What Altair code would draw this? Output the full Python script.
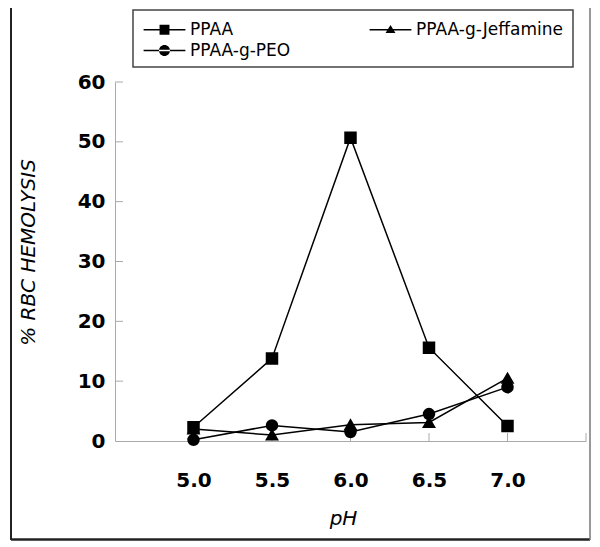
import altair as alt
import pandas as pd

PH = [5.0, 5.5, 6.0, 6.5, 7.0]
PPAA = [2.3, 13.8, 50.7, 15.6, 2.5]
PPAA_G_PEO = [0.2, 2.6, 1.5, 4.5, 9.0]
PPAA_G_JEFF = [2.0, 1.0, 2.7, 3.1, 10.5]
SERIES = ["PPAA", "PPAA-g-PEO", "PPAA-g-Jeffamine"]
X_LABELS = [5.0, 5.5, 6.0, 6.5, 7.0]
X_TICKS = [5.0, 5.5, 6.0, 6.5, 7.0, 7.5]
Y_TICKS = [10, 20, 30, 40, 50, 60]
Y_LABELS = [0, 10, 20, 30, 40, 50, 60]

rows = []
for name, vals in zip(SERIES, [PPAA, PPAA_G_PEO, PPAA_G_JEFF]):
    for p, v in zip(PH, vals):
        rows.append({"pH": p, "value": v, "series": name})
df = pd.DataFrame(rows)

W, H = 471, 359
FONT = "DejaVu Sans"
AX = "#aaaaaa"

# legend glyphs: a thin filled bar (the line) plus the marker
LEG_PATHS = [
    "M-3.8,-0.12H3.8V0.12H-3.8ZM-0.9,-0.9H0.9V0.9H-0.9Z",
    "M-3.8,-0.12H3.8V0.12H-3.8ZM-1,0A1,1,0,1,0,1,0A1,1,0,1,0,-1,0Z",
    "M-3.8,-0.12H3.8V0.12H-3.8ZM0,-0.85L0.9,0.6H-0.9Z",
]

xscale = alt.Scale(domain=[4.5, 7.5], nice=False, zero=False)
yscale = alt.Scale(domain=[0, 60], nice=False)

base = alt.Chart(df)

lines = base.mark_line(color="black", strokeWidth=1.5).encode(
    x=alt.X("pH:Q", scale=xscale, axis=alt.Axis(
        values=X_LABELS, format=".1f", title="pH", tickSize=0, labelPadding=29,
        domainColor=AX, grid=False, titleX=228, titleY=77, titleBaseline="middle",
        titleAlign="center")),
    y=alt.Y("value:Q", scale=yscale, axis=alt.Axis(
        values=Y_LABELS, title="% RBC HEMOLYSIS", tickSize=0, labelPadding=10,
        domainColor=AX, grid=False, titleAngle=270, titleX=-87, titleY=170,
        titleBaseline="middle", titleAlign="center")),
    detail="series:N",
)

points = base.mark_point(filled=True, fill="black", stroke="black", opacity=1, size=110).encode(
    x="pH:Q",
    y="value:Q",
    shape=alt.Shape("series:N", scale=alt.Scale(domain=SERIES, range=["square", "circle", "triangle-up"]), legend=None),
)

legend_layer = base.transform_filter("false").mark_point(
    filled=True, fill="black", stroke="black", strokeWidth=0.5, opacity=1, size=121
).encode(
    x="pH:Q",
    y="value:Q",
    shape=alt.Shape("series:N", scale=alt.Scale(domain=SERIES, range=LEG_PATHS), legend=alt.Legend(
        title=None, orient="none", legendX=26, legendY=-61, columns=2, columnPadding=76,
        rowPadding=3, padding=0,
        labelFont=FONT, labelFontSize=17, labelColor="black", labelOffset=17,
        symbolSize=121, symbolOffset=15, symbolFillColor="black",
        symbolStrokeColor="black", symbolStrokeWidth=0.5, symbolOpacity=1)),
)

frame_df = pd.DataFrame({"k": [0]})
legend_box = alt.Chart(frame_df).mark_rect(
    fill="white", stroke="#444444", strokeWidth=1.5
).encode(x=alt.value(18), x2=alt.value(458), y=alt.value(-72), y2=alt.value(-15))

yticks = alt.Chart(pd.DataFrame({"value": Y_TICKS})).mark_rule(color=AX, strokeWidth=1).encode(
    y="value:Q", x=alt.value(0), x2=alt.value(8)
)
xticks = alt.Chart(pd.DataFrame({"pH": X_TICKS})).mark_rule(color=AX, strokeWidth=1).encode(
    x="pH:Q", y=alt.value(H - 8), y2=alt.value(H)
)

fl = alt.Chart(frame_df).mark_rule(color="#222222", strokeWidth=2).encode(
    x=alt.value(-104), y=alt.value(-79), y2=alt.value(458))
fb = alt.Chart(frame_df).mark_rule(color="#222222", strokeWidth=2.5).encode(
    y=alt.value(457.5), x=alt.value(-104), x2=alt.value(475))
fr = alt.Chart(frame_df).mark_rule(color="#777777", strokeWidth=1.5).encode(
    x=alt.value(475), y=alt.value(-79), y2=alt.value(458))

chart = alt.layer(
    fl, fb, fr, legend_box, yticks, xticks, lines, points, legend_layer
).resolve_scale(shape="independent").properties(
    width=W, height=H,
    autosize=alt.AutoSizeParams(type="none"),
    padding={"left": 107, "top": 74, "right": 6, "bottom": 100},
).configure_view(stroke=None).configure_axis(
    labelFont=FONT, labelFontWeight="bold", labelFontSize=20, labelColor="black",
    titleFont=FONT, titleFontStyle="italic", titleFontWeight="normal", titleFontSize=20,
    titleColor="black",
)

chart.save("out.html", embed_options={"renderer": "svg", "actions": False})
